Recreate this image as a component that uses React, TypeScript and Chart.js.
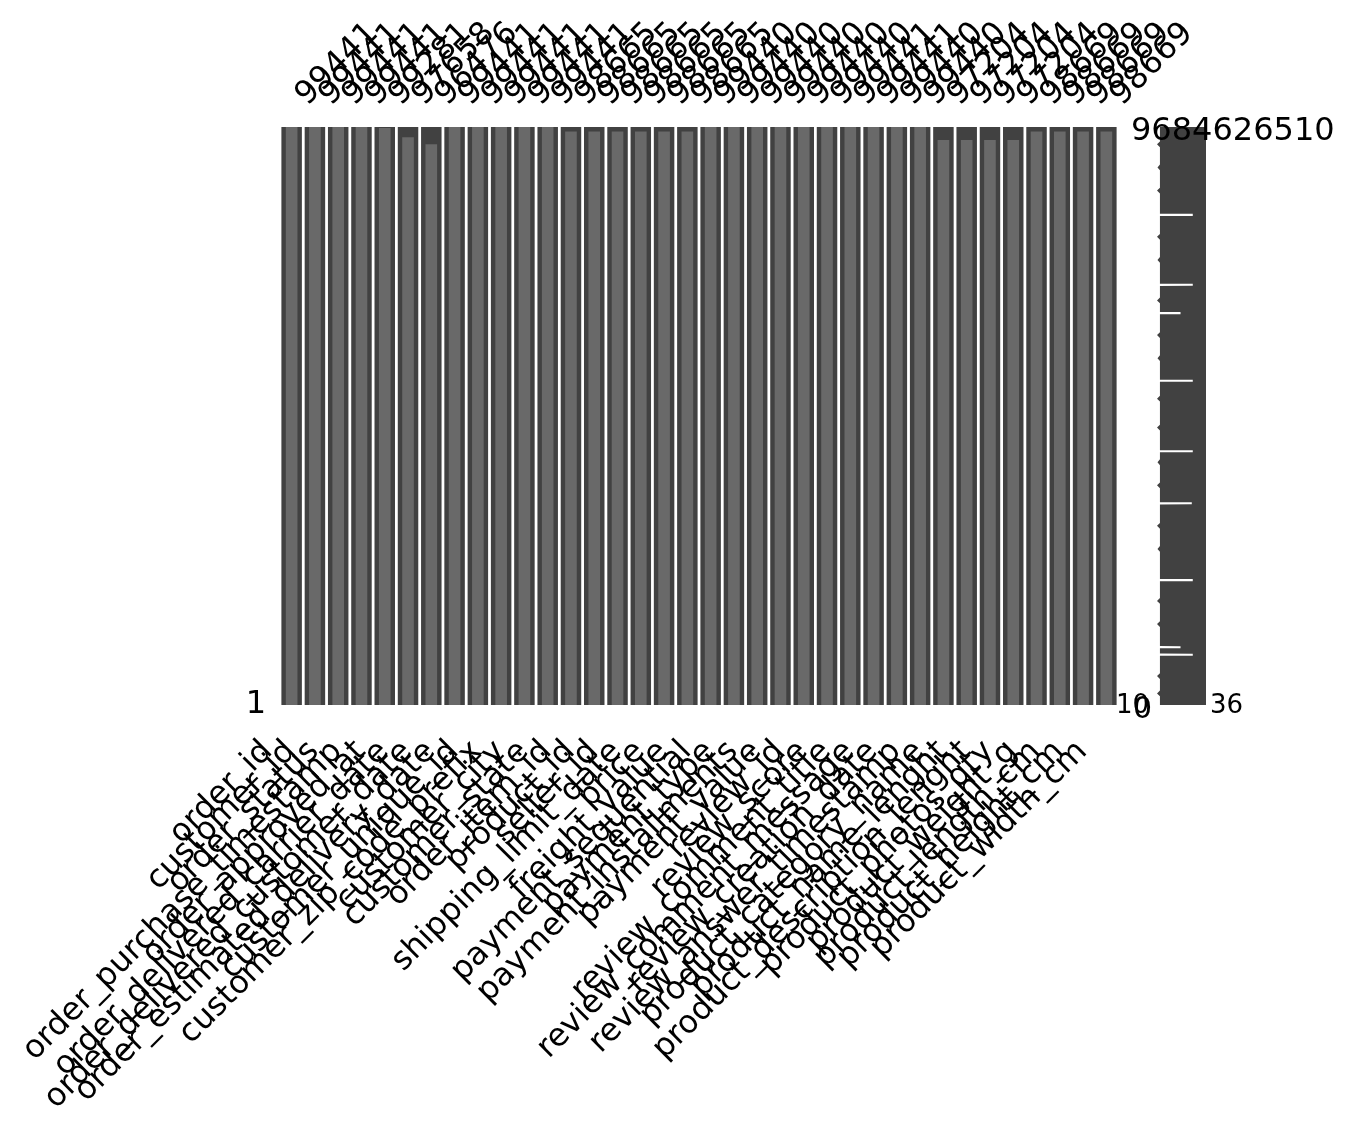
import React, { useEffect, useRef } from "react";
import { Chart, registerables } from "chart.js";

Chart.register(...registerables);

const columns = [
  "order_id",
  "customer_id",
  "order_status",
  "order_purchase_timestamp",
  "order_approved_at",
  "order_delivered_carrier_date",
  "order_delivered_customer_date",
  "order_estimated_delivery_date",
  "customer_unique_id",
  "customer_zip_code_prefix",
  "customer_city",
  "customer_state",
  "order_item_id",
  "product_id",
  "seller_id",
  "shipping_limit_date",
  "price",
  "freight_value",
  "payment_sequential",
  "payment_type",
  "payment_installments",
  "payment_value",
  "review_id",
  "review_score",
  "review_comment_title",
  "review_comment_message",
  "review_creation_date",
  "review_answer_timestamp",
  "product_category_name",
  "product_name_lenght",
  "product_description_lenght",
  "product_photos_qty",
  "product_weight_g",
  "product_length_cm",
  "product_height_cm",
  "product_width_cm",
];

const totalRows = 99441;

const nonNullCounts = [
  99441, 99441, 99441, 99441, 99281, 97658, 96476, 99441, 99441, 99441, 99441, 99441,
  98665, 98665, 98665, 98665, 98665, 98665, 99440, 99440, 99440, 99440, 99440, 99440,
  99441, 99441, 99440, 99440, 97204, 97204, 97204, 97204, 98669, 98669, 98669, 98669,
];

const countLabels = nonNullCounts.map((v) => String(v));

const leftTickLabel = "1";

// sparkline (row completeness strip): positions are row shares, 0 = top row, 1 = last row
const sparkEdge = 0.06;
const sparkBumpRows = [0.03, 0.07, 0.11, 0.19, 0.23, 0.3, 0.36, 0.4, 0.47, 0.52, 0.58, 0.62, 0.69, 0.73, 0.82, 0.86, 0.95, 0.98];
const sparkBumpDepth = [0, 0.01, 0, 0, 0.01, 0, 0, 0.01, 0, 0, 0.01, 0, 0, 0.01, 0, 0, 0, 0];
const sparkGapRows = [0.152, 0.273, 0.322, 0.439, 0.561, 0.651, 0.784, 0.9, 0.913];
const sparkGapWidths = [0.73, 0.73, 0.48, 0.73, 0.73, 0.71, 0.73, 0.48, 0.73];

const sideTexts = [
  { text: "9684626510", left: 1131, top: 113, size: 32 },
  { text: "10", left: 1116, top: 691, size: 26 },
  { text: "0", left: 1133, top: 693, size: 30 },
  { text: "36", left: 1210, top: 691, size: 26 },
];

const DARK = "#414141";
const LIGHT = "#696969";
const FONT = "'DejaVu Sans'";

function buildSparkPoints() {
  const pts: { x: number; y: number }[] = [
    { x: sparkEdge, y: 0 },
    { x: sparkEdge, y: 1 },
  ];
  sparkBumpRows.forEach((p, i) => {
    pts.push({ x: sparkEdge, y: p - 0.005 });
    pts.push({ x: sparkBumpDepth[i], y: p });
    pts.push({ x: sparkEdge, y: p + 0.005 });
  });
  sparkGapRows.forEach((p, i) => {
    pts.push({ x: sparkEdge, y: p - 0.0019 });
    pts.push({ x: sparkGapWidths[i], y: p - 0.0018 });
    pts.push({ x: sparkGapWidths[i], y: p + 0.0018 });
    pts.push({ x: sparkEdge, y: p + 0.0019 });
  });
  pts.sort((a, b) => a.y - b.y);
  return pts;
}

export default function App() {
  const mainRef = useRef<HTMLCanvasElement | null>(null);
  const sparkRef = useRef<HTMLCanvasElement | null>(null);

  useEffect(() => {
    if (!mainRef.current || !sparkRef.current) return;
    const main = new Chart(mainRef.current, {
      type: "bar",
      data: {
        labels: columns,
        datasets: [
          {
            label: "rows",
            data: columns.map(() => totalRows),
            backgroundColor: DARK,
            barPercentage: 0.88,
            categoryPercentage: 1,
            grouped: false,
            order: 2,
          } as any,
          {
            label: "non-null",
            data: nonNullCounts,
            backgroundColor: LIGHT,
            barPercentage: 0.5,
            categoryPercentage: 1,
            grouped: false,
            order: 1,
          } as any,
        ],
      },
      options: {
        animation: false,
        responsive: false,
        maintainAspectRatio: false,
        layout: { padding: { left: 0, right: 241, top: 0, bottom: 0 } },
        plugins: { legend: { display: false }, tooltip: { enabled: false } },
        scales: {
          x: {
            type: "category",
            position: "bottom",
            offset: true,
            grid: { display: false, drawTicks: false },
            border: { display: false },
            ticks: {
              autoSkip: false,
              maxRotation: 45,
              minRotation: 45,
              padding: 28,
              labelOffset: -24,
              color: "#000",
              font: { family: FONT, size: 32 },
            },
            afterFit: (s: any) => {
              s.height = 426;
            },
          },
          xTop: {
            type: "category",
            position: "top",
            labels: countLabels,
            offset: true,
            grid: { display: false, drawTicks: false },
            border: { display: false },
            ticks: {
              autoSkip: false,
              maxRotation: 45,
              minRotation: 45,
              padding: 13,
              labelOffset: 37,
              color: "#000",
              font: { family: FONT, size: 32 },
            },
            afterFit: (s: any) => {
              s.height = 127;
            },
          },
          y: {
            type: "linear",
            position: "left",
            min: 0,
            max: totalRows,
            grid: { display: false, drawTicks: false },
            border: { display: false },
            afterBuildTicks: (s: any) => {
              s.ticks = [{ value: 0 }];
            },
            ticks: {
              padding: 14,
              color: "#000",
              font: { family: FONT, size: 32 },
              callback: () => leftTickLabel,
            },
            afterFit: (s: any) => {
              s.width = 280;
            },
          },
        },
      } as any,
    });

    const spark = new Chart(sparkRef.current, {
      type: "line",
      data: {
        datasets: [
          {
            data: buildSparkPoints(),
            borderColor: DARK,
            borderWidth: 0,
            backgroundColor: DARK,
            fill: { value: 1 },
            pointRadius: 0,
            tension: 0,
          } as any,
        ],
      },
      options: {
        indexAxis: "y",
        animation: false,
        responsive: false,
        maintainAspectRatio: false,
        layout: { padding: 0 },
        plugins: { legend: { display: false }, tooltip: { enabled: false } },
        scales: {
          x: { type: "linear", min: 0, max: 1, display: false },
          y: { type: "linear", min: 0, max: 1, reverse: true, display: false },
        },
      } as any,
    });

    return () => {
      main.destroy();
      spark.destroy();
    };
  }, []);

  return (
    <div style={{ position: "absolute", left: 0, top: 0, width: 1359, height: 1131, background: "#fff", overflow: "hidden" }}>
      <canvas
        ref={mainRef}
        width={1359}
        height={1131}
        style={{ position: "absolute", left: 0, top: 0, width: 1359, height: 1131 }}
      />
      <canvas
        ref={sparkRef}
        width={49}
        height={578}
        style={{ position: "absolute", left: 1157, top: 127, width: 49, height: 578 }}
      />
      {sideTexts.map((t) => (
        <div
          key={t.text}
          style={{
            position: "absolute",
            left: t.left,
            top: t.top,
            fontFamily: FONT,
            fontSize: t.size,
            lineHeight: `${t.size}px`,
            color: "#000",
            whiteSpace: "nowrap",
          }}
        >
          {t.text}
        </div>
      ))}
    </div>
  );
}
